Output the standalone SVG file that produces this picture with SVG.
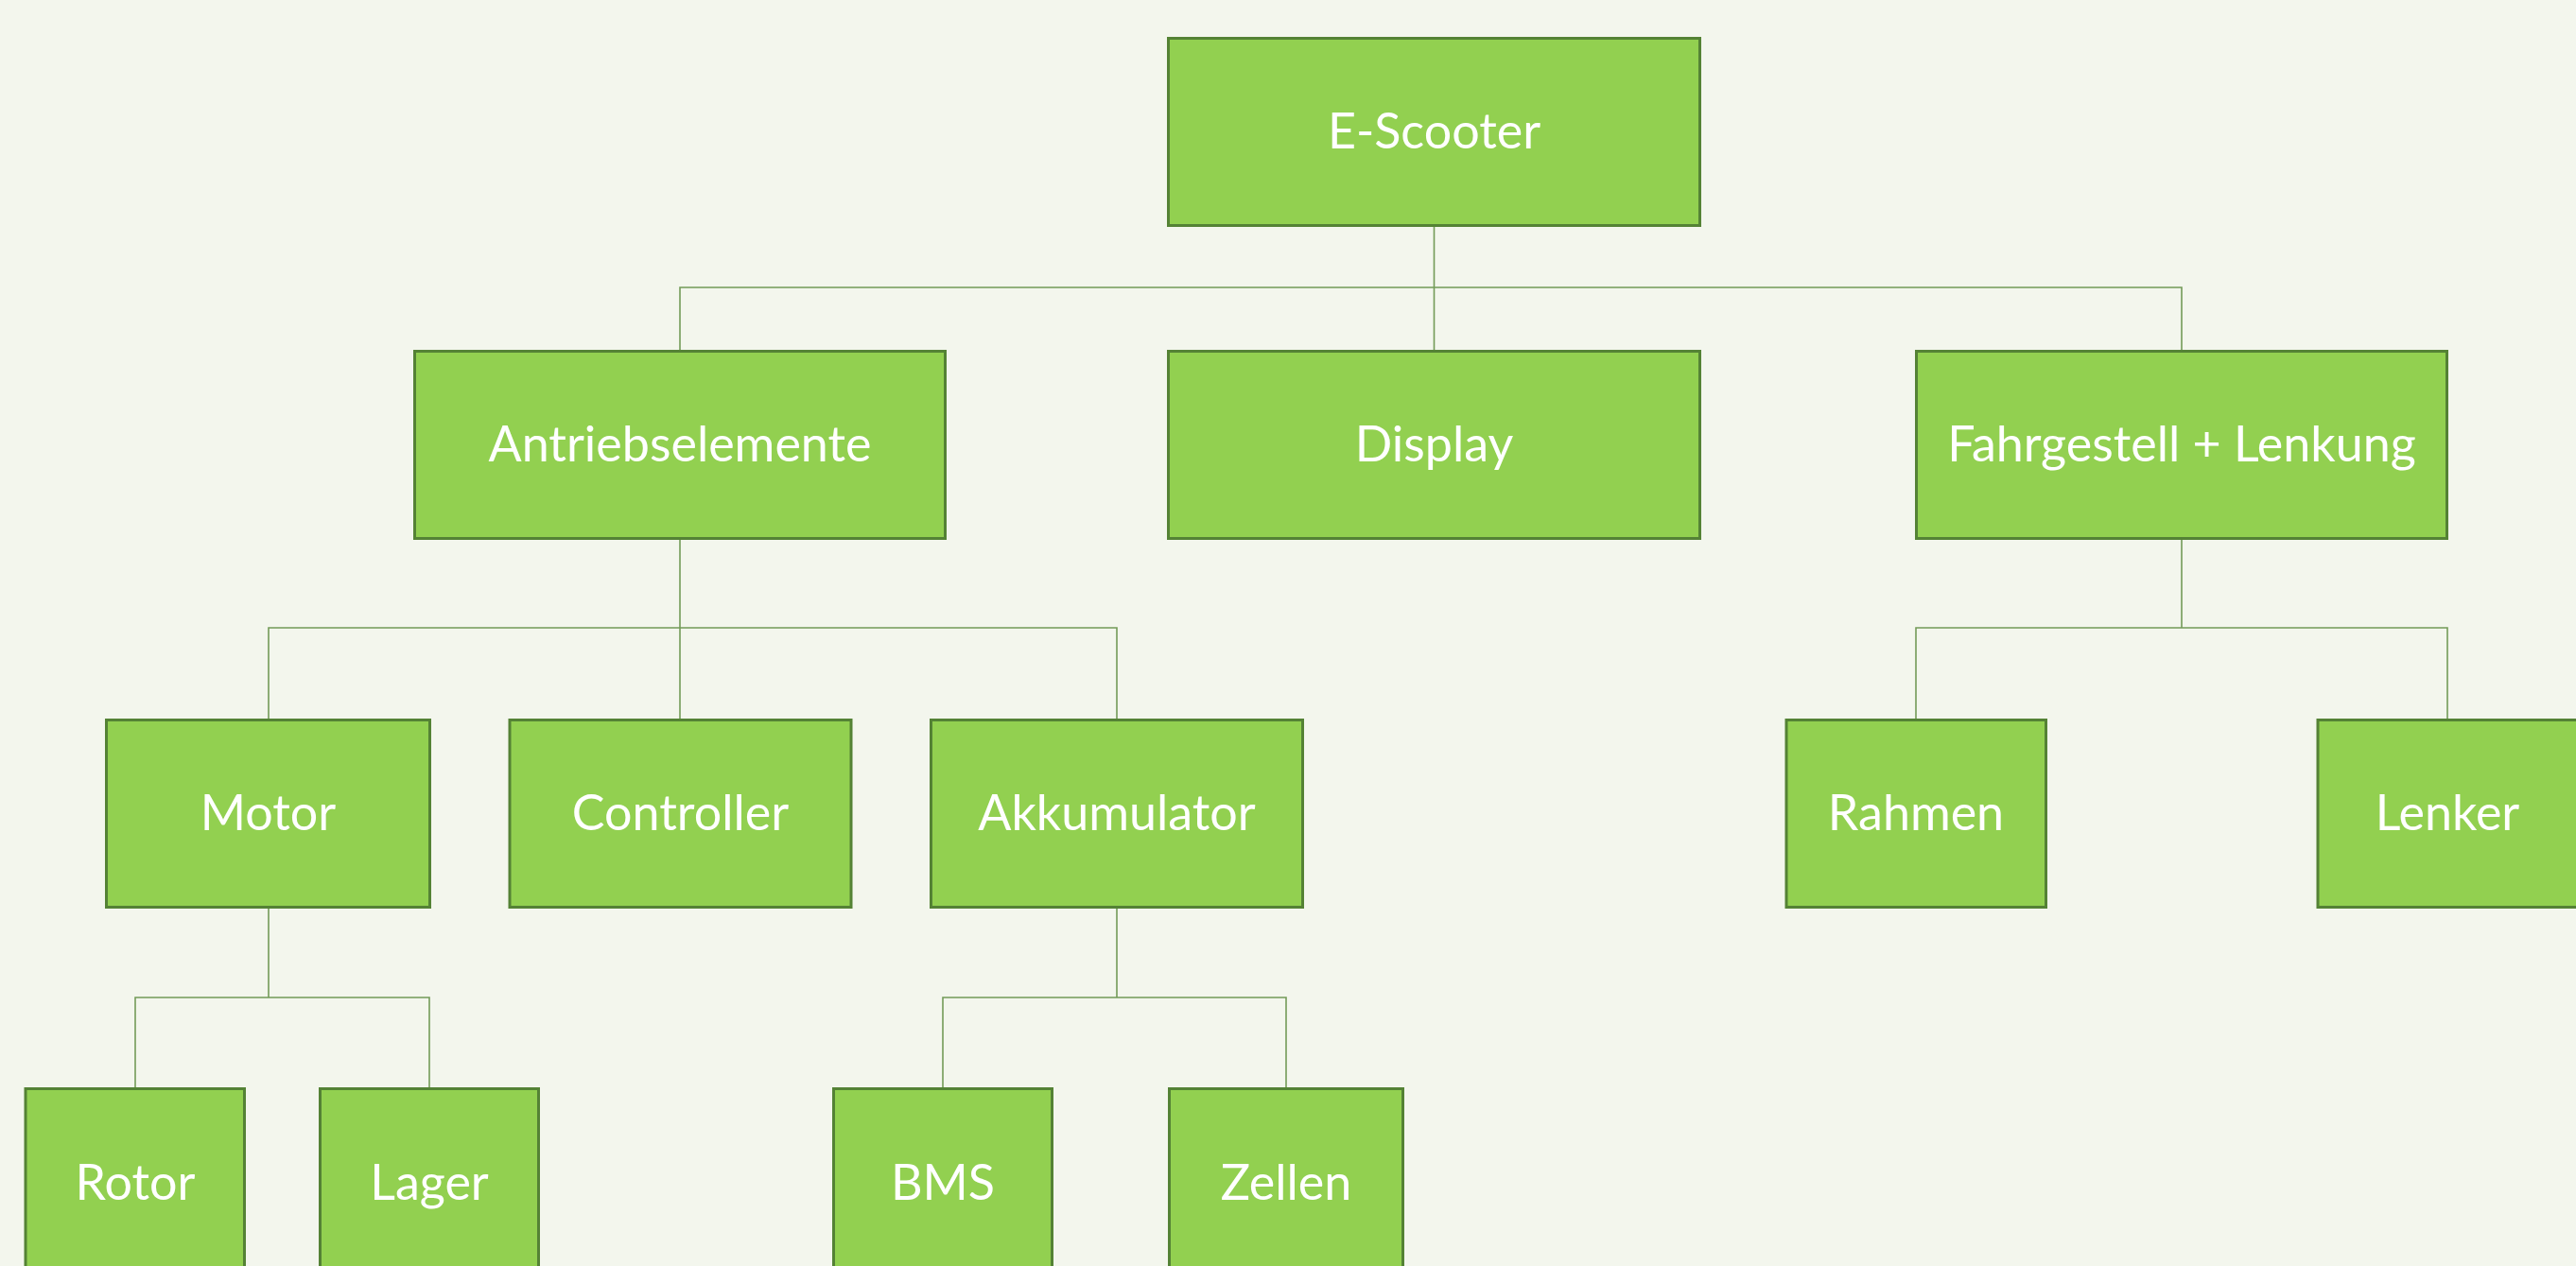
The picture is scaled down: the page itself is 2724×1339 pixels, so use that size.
<svg xmlns="http://www.w3.org/2000/svg" width="2724" height="1339" viewBox="0 0 2724 1339">
<style>
.box{fill:#92d050;stroke:#548235;stroke-width:3}
.lbl{font-family:Lato,"Open Sans","Liberation Sans",sans-serif;font-size:52px;fill:#ffffff;text-anchor:middle}
.con{fill:none;stroke:#739b58;stroke-width:1.6}
</style>
<rect width="2724" height="1339" fill="#f3f6ed"/>
<g id="connectors">
<path class="con" d="M1516.5 239V370M719 370V304H2307V370"/>
<path class="con" d="M719 570V664M284 760V664H1181V760M719 664V760"/>
<path class="con" d="M2307 570V664M2026 760V664H2588V760"/>
<path class="con" d="M284 960V1055M143 1150V1055H454V1150"/>
<path class="con" d="M1181 960V1055M997 1150V1055H1360V1150"/>
</g>
<g id="n-escooter"><rect class="box" x="1235.5" y="40.5" width="562" height="198"/><text class="lbl" x="1516.5" y="157">E-Scooter</text></g>
<g id="n-antrieb"><rect class="box" x="438.5" y="371.5" width="561" height="198"/><text class="lbl" x="719" y="488">Antriebselemente</text></g>
<g id="n-display"><rect class="box" x="1235.5" y="371.5" width="562" height="198"/><text class="lbl" x="1516.5" y="488">Display</text></g>
<g id="n-fahrgestell"><rect class="box" x="2026.5" y="371.5" width="561" height="198"/><text class="lbl" x="2307" y="488">Fahrgestell + Lenkung</text></g>
<g id="n-motor"><rect class="box" x="112.5" y="761.5" width="342" height="198"/><text class="lbl" x="283.5" y="878">Motor</text></g>
<g id="n-controller"><rect class="box" x="539" y="761.5" width="361" height="198"/><text class="lbl" x="719.5" y="878">Controller</text></g>
<g id="n-akku"><rect class="box" x="984.5" y="761.5" width="393" height="198"/><text class="lbl" x="1181" y="878">Akkumulator</text></g>
<g id="n-rahmen"><rect class="box" x="1889" y="761.5" width="274.5" height="198"/><text class="lbl" x="2026" y="878">Rahmen</text></g>
<g id="n-lenker"><rect class="box" x="2451" y="761.5" width="274.5" height="198"/><text class="lbl" x="2588" y="878">Lenker</text></g>
<g id="n-rotor"><rect class="box" x="27" y="1151.5" width="231.5" height="198"/><text class="lbl" x="143" y="1269">Rotor</text></g>
<g id="n-lager"><rect class="box" x="338.5" y="1151.5" width="231" height="198"/><text class="lbl" x="454" y="1269">Lager</text></g>
<g id="n-bms"><rect class="box" x="881.5" y="1151.5" width="231" height="198"/><text class="lbl" x="997" y="1269">BMS</text></g>
<g id="n-zellen"><rect class="box" x="1236.5" y="1151.5" width="247" height="198"/><text class="lbl" x="1360" y="1269">Zellen</text></g>
</svg>
